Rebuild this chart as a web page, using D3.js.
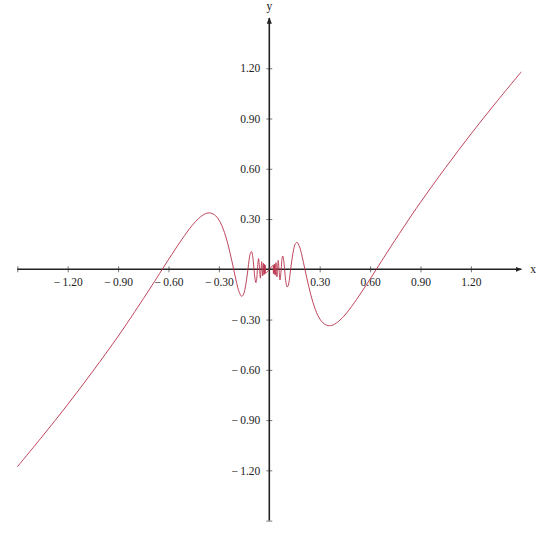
<!DOCTYPE html>
<html>
<head>
<meta charset="utf-8">
<script src="https://cdn.jsdelivr.net/npm/d3@7"></script>
<style>
  body { margin: 0; background: #fff; }
  svg text { font-family: "Liberation Serif", "DejaVu Serif", serif; }
</style>
</head>
<body>
<script>
// tick values on both axes (0 is left out, like in the picture)
const xTicks = [-1.2, -0.9, -0.6, -0.3, 0.3, 0.6, 0.9, 1.2];
const yTicks = [-1.2, -0.9, -0.6, -0.3, 0.3, 0.6, 0.9, 1.2];

// points of the curve, left branch
const leftBranch = [
  [-1.5, -1.179], [-1.35, -0.996], [-1.2, -0.807], [-1.05, -0.608], [-0.9, -0.400],
  [-0.8, -0.252], [-0.7, -0.099], [-0.637, 0], [-0.58, 0.089], [-0.52, 0.179],
  [-0.46, 0.261], [-0.42, 0.304], [-0.38, 0.332], [-0.35, 0.336], [-0.32, 0.320],
  [-0.29, 0.277], [-0.26, 0.198], [-0.235, 0.103], [-0.212, 0], [-0.195, -0.0785],
  [-0.18, -0.134], [-0.165, -0.161], [-0.155, -0.153], [-0.145, -0.1185], [-0.135, -0.059],
  [-0.127, 0], [-0.12, 0.057], [-0.113, 0.095], [-0.106, 0.106], [-0.1, 0.084],
  [-0.095, 0.045], [-0.0909, 0], [-0.086, -0.0508], [-0.0796, -0.0796], [-0.075, -0.0589],
  [-0.0707, 0], [-0.0637, 0.0637], [-0.0579, 0], [-0.053, -0.053], [-0.049, 0],
  [-0.0455, 0.0455], [-0.0424, 0], [-0.0398, -0.0398], [-0.0374, 0], [-0.0354, 0.0354],
  [-0.0335, 0], [-0.0318, -0.0318], [-0.0303, 0], [-0.0289, 0.0289], [-0.0277, 0],
  [-0.0265, -0.0265], [-0.0255, 0], [-0.0245, 0.0245], [-0.0236, 0], [-0.0227, -0.0227]
];

// right branch
const rightBranch = [
  [0.0227, 0.0227], [0.0236, 0], [0.0245, -0.0245], [0.0255, 0], [0.0265, 0.0265],
  [0.0277, 0], [0.0289, -0.0289], [0.0303, 0], [0.0318, 0.0318], [0.0335, 0],
  [0.0354, -0.0354], [0.0374, 0], [0.0398, 0.0398], [0.0424, 0], [0.0455, -0.0455],
  [0.049, 0], [0.053, 0.053], [0.0579, 0], [0.0637, -0.0637], [0.0707, 0],
  [0.075, 0.0589], [0.0796, 0.0796], [0.086, 0.0508], [0.0909, 0], [0.095, -0.045],
  [0.1, -0.084], [0.106, -0.106], [0.113, -0.095], [0.12, -0.057], [0.127, 0],
  [0.135, 0.059], [0.145, 0.1185], [0.155, 0.153], [0.165, 0.161], [0.18, 0.134],
  [0.195, 0.0785], [0.212, 0], [0.235, -0.103], [0.26, -0.198], [0.29, -0.277],
  [0.32, -0.320], [0.35, -0.336], [0.38, -0.332], [0.42, -0.304], [0.46, -0.261],
  [0.52, -0.179], [0.58, -0.089], [0.637, 0], [0.7, 0.099], [0.8, 0.252],
  [0.9, 0.400], [1.05, 0.608], [1.2, 0.807], [1.35, 0.996], [1.5, 1.179]
];

const curveData = leftBranch.concat([[0, 0]], rightBranch);

const size = 540;
const svg = d3.select("body").append("svg")
  .attr("width", size)
  .attr("height", size);

const x = d3.scaleLinear().domain([-1.5, 1.5]).range([17.3, 521.3]);
const y = d3.scaleLinear().domain([-1.5, 1.5]).range([520.6, 18]);
// tex-like label: wide minus sign
const fmt = d => d3.format(".2f")(d).replace("\u2212", "\u2212\u2009");

// arrow head
svg.append("defs").append("marker")
  .attr("id", "arrow")
  .attr("viewBox", "0 0 10 10")
  .attr("refX", 9).attr("refY", 5)
  .attr("markerWidth", 4).attr("markerHeight", 4)
  .attr("orient", "auto")
  .append("path")
  .attr("d", "M0,1L10,5L0,9z")
  .attr("fill", "#222");

// x axis
const xAxis = svg.append("g")
  .attr("transform", "translate(0," + y(0) + ")")
  .call(d3.axisBottom(x).tickValues([-1.5].concat(xTicks))
    .tickFormat(d => d === -1.5 ? "" : fmt(d)).tickSize(3).tickPadding(6));
xAxis.select(".domain").remove();
xAxis.selectAll(".tick line").attr("y1", -3).attr("y2", 3).attr("stroke", "#777");
xAxis.selectAll(".tick text").attr("font-size", 11.5).attr("fill", "#222")
  .attr("font-family", "Liberation Serif, serif");

// y axis
const yAxis = svg.append("g")
  .attr("transform", "translate(" + x(0) + ",0)")
  .call(d3.axisLeft(y).tickValues([-1.5].concat(yTicks))
    .tickFormat(d => d === -1.5 ? "" : fmt(d)).tickSize(3).tickPadding(6));
yAxis.select(".domain").remove();
yAxis.selectAll(".tick line").attr("x1", -3).attr("x2", 3).attr("stroke", "#777");
yAxis.selectAll(".tick text").attr("font-size", 11.5).attr("fill", "#222")
  .attr("font-family", "Liberation Serif, serif");

// axis lines with arrows
svg.append("line")
  .attr("x1", x(-1.5)).attr("x2", x(1.5))
  .attr("y1", y(0)).attr("y2", y(0))
  .attr("stroke", "#222").attr("stroke-width", 1.6)
  .attr("marker-end", "url(#arrow)");
svg.append("line")
  .attr("x1", x(0)).attr("x2", x(0))
  .attr("y1", y(-1.5)).attr("y2", y(1.5))
  .attr("stroke", "#222").attr("stroke-width", 1.6)
  .attr("marker-end", "url(#arrow)");

svg.append("text")
  .attr("x", x(1.5) + 9).attr("y", y(0) + 4)
  .attr("font-size", 11.5).attr("fill", "#222")
  .text("x");
svg.append("text")
  .attr("x", x(0)).attr("y", y(1.5) - 8)
  .attr("text-anchor", "middle")
  .attr("font-size", 11.5).attr("fill", "#222")
  .text("y");

// the curve
svg.append("path")
  .datum(curveData)
  .attr("fill", "none")
  .attr("stroke", "#b8304a")
  .attr("stroke-width", 0.9)
  .attr("d", d3.line()
    .x(function(d) { return x(d[0]); })
    .y(function(d) { return y(d[1]); })
    .curve(d3.curveCatmullRom.alpha(0.5)));
</script>
</body>
</html>
